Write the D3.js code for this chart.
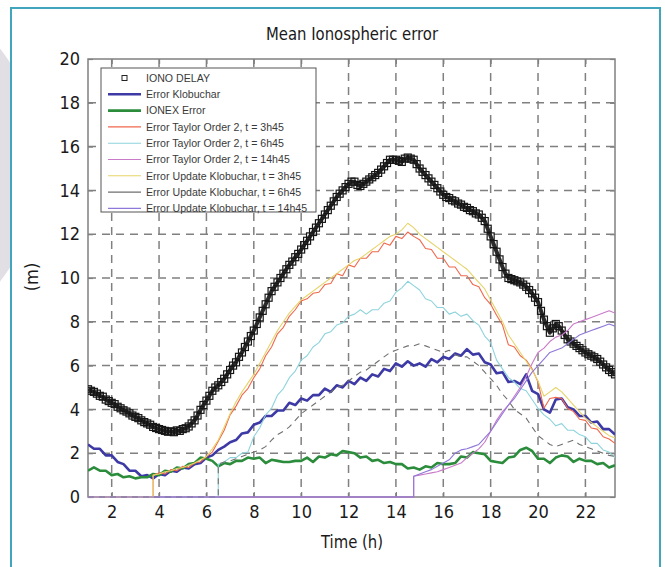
<!DOCTYPE html>
<html>
<head>
<meta charset="utf-8">
<script src="https://cdn.jsdelivr.net/npm/d3@7"></script>
<style>
  html, body { margin: 0; padding: 0; background: #fff; }
  svg { display: block; }
  .num { font-family: "DejaVu Sans Condensed", "Liberation Sans Narrow", sans-serif; fill: #1a1a1a; }
  .leg { font-family: "Liberation Sans", Arial, sans-serif; fill: #3a3a3a; }
</style>
</head>
<body>
<svg id="chart" width="665" height="567"></svg>
<script>
// ---- sampling grids (hours) ----
const hours = d3.range(1, 23.3, 0.25);        // 1.00 .. 23.25
const ionoHours = d3.range(1, 23.3, 0.125);   // 1.000 .. 23.250

// ---- axis ticks ----
const xTicks = [2, 4, 6, 8, 10, 12, 14, 16, 18, 20, 22];
const yTicks = [0, 2, 4, 6, 8, 10, 12, 14, 16, 18, 20];

// ---- series (metres) ----
const ionoDelay = [
  4.92,4.85,4.80,4.72,4.62,4.58,4.45,4.38,
  4.30,4.24,4.12,4.05,3.96,3.90,3.82,3.72,
  3.66,3.60,3.50,3.42,3.36,3.30,3.20,3.15,
  3.10,3.06,3.02,2.98,3.00,2.96,3.04,3.02,
  3.10,3.14,3.22,3.36,3.50,3.72,3.98,4.20,
  4.40,4.62,4.85,5.00,5.10,5.25,5.40,5.60,
  5.80,6.00,6.15,6.40,6.60,6.85,7.10,7.35,
  7.60,7.90,8.20,8.50,8.80,9.10,9.40,9.60,
  9.80,10.00,10.20,10.40,10.60,10.75,10.95,11.10,
  11.30,11.50,11.70,11.90,12.10,12.30,12.50,12.70,
  12.90,13.10,13.30,13.50,13.70,13.85,14.00,14.15,
  14.30,14.40,14.40,14.25,14.20,14.30,14.40,14.50,
  14.60,14.70,14.80,14.95,15.10,15.25,15.40,15.40,
  15.40,15.35,15.30,15.45,15.50,15.45,15.40,15.20,
  15.00,14.85,14.70,14.55,14.40,14.25,14.10,13.95,
  13.80,13.70,13.65,13.55,13.50,13.40,13.35,13.25,
  13.20,13.10,13.05,12.95,12.90,12.75,12.60,12.25,
  11.90,11.55,11.20,10.85,10.50,10.20,10.00,9.95,
  9.90,9.85,9.80,9.70,9.60,9.45,9.30,9.10,
  8.90,8.50,8.10,7.80,7.50,7.70,7.90,7.80,
  7.60,7.40,7.20,7.10,7.00,6.90,6.80,6.70,
  6.60,6.52,6.45,6.38,6.30,6.18,6.05,5.92,
  5.80,5.70,5.60
];

const errKlobuchar = [
  2.40,2.20,2.20,1.90, 1.90,1.60,1.50,1.20, 1.20,0.95,1.00,0.85,
  1.05,1.00,1.20,1.15, 1.35,1.30,1.50,1.55, 1.80,1.90,2.15,2.30,
  2.50,2.60,2.90,2.95, 3.30,3.40,3.70,3.70, 3.95,3.95,4.30,4.20,
  4.50,4.40,4.65,4.65, 4.95,4.80,5.10,5.00, 5.30,5.15,5.45,5.30,
  5.60,5.50,5.85,5.75, 6.10,5.95,6.20,6.00, 6.10,5.95,6.30,6.15,
  6.40,6.30,6.55,6.45, 6.75,6.50,6.55,6.15, 6.05,5.65,5.70,5.25,
  5.30,5.15,5.60,4.85, 4.70,4.00,3.85,4.45, 4.50,4.10,4.00,3.70,
  3.70,3.40,3.45,3.10, 3.10,2.85
];

const ionexError = [
  1.20,1.35,1.20,1.20, 1.00,1.05,0.90,0.95, 0.85,0.90,0.90,1.05,
  1.00,1.20,1.15,1.35, 1.30,1.50,1.55,1.80, 1.75,1.65,1.40,1.55,
  1.50,1.65,1.65,1.80, 1.75,1.80,1.55,1.70, 1.65,1.60,1.60,1.65,
  1.65,1.80,1.60,1.85, 1.80,1.95,1.90,2.10, 2.05,2.00,1.80,1.85,
  1.65,1.70,1.55,1.60, 1.50,1.50,1.30,1.35, 1.25,1.40,1.35,1.55,
  1.50,1.50,1.55,1.85, 1.80,2.05,2.00,1.95, 1.65,1.60,1.55,1.80,
  1.85,2.15,2.25,2.10, 1.75,1.75,1.55,1.80, 1.90,1.85,1.60,1.75,
  1.65,1.65,1.50,1.55, 1.35,1.45
];

const taylor3h45 = [
  0,0,0,0, 0,0,0,0, 0,0,0,1.00,
  1.10,1.05,1.25,1.20, 1.40,1.35,1.55,1.60, 1.85,2.05,2.55,3.05,
  3.75,4.15,4.65,4.95, 5.45,5.85,6.45,6.85, 7.45,7.75,8.25,8.55,
  8.95,9.05,9.30,9.35, 9.70,9.75,10.20,10.10, 10.60,10.50,10.90,10.90,
  11.20,11.20,11.60,11.50, 11.90,11.80,12.10,11.90, 11.75,11.35,11.30,10.90,
  10.90,10.50,10.50,10.10, 10.10,9.70,9.60,9.10, 8.80,8.30,7.85,6.95,
  6.85,6.45,6.25,5.85, 5.25,4.05,4.50,4.55, 4.50,4.05,3.90,3.55,
  3.50,3.15,3.10,2.75, 2.65,2.45
];

const taylor6h45 = [
  0,0,0,0, 0,0,0,0, 0,0,0,0,
  0,0,0,0, 0,0,0,0, 0,0,1.50,1.60,
  1.80,1.80,2.00,2.05, 2.75,3.15,3.75,4.05, 4.65,4.95,5.45,5.75,
  6.25,6.45,6.85,7.05, 7.45,7.55,7.85,7.95, 8.25,8.35,8.55,8.35,
  8.55,8.55,8.85,8.95, 9.35,9.55,9.85,9.65, 9.45,9.05,8.95,8.65,
  8.65,8.35,8.45,8.25, 8.35,8.05,7.85,7.35, 7.05,6.25,5.85,5.45,
  5.25,4.95,4.85,4.45, 4.05,3.75,3.55,3.25, 3.35,3.05,3.05,2.85,
  2.75,2.45,2.45,2.15, 2.05,1.80
];

const taylor14h45 = [
  0,0,0,0, 0,0,0,0, 0,0,0,0,
  0,0,0,0, 0,0,0,0, 0,0,0,0,
  0,0,0,0, 0,0,0,0, 0,0,0,0,
  0,0,0,0, 0,0,0,0, 0,0,0,0,
  0,0,0,0, 0,0,0,0.95, 1.00,1.05,1.10,1.15,
  1.25,1.35,1.45,1.55, 1.80,2.00,2.20,2.50, 3.00,3.50,3.90,4.20,
  4.60,5.00,5.50,6.10, 6.60,6.80,7.10,7.30, 7.40,7.60,7.90,8.00,
  8.10,8.20,8.30,8.40, 8.50,8.40
];

const updKlob3h45 = [
  0,0,0,0, 0,0,0,0, 0,0,0,1.00,
  1.05,1.15,1.20,1.30, 1.35,1.45,1.55,1.70, 1.85,2.20,2.60,3.20,
  3.80,4.35,4.80,5.20, 5.60,6.10,6.60,7.10, 7.60,8.00,8.40,8.70,
  9.00,9.20,9.40,9.60, 9.80,10.00,10.20,10.40, 10.60,10.80,10.90,11.10,
  11.30,11.50,11.70,11.90, 12.00,12.20,12.50,12.30, 12.00,11.80,11.60,11.40,
  11.20,11.00,10.80,10.60, 10.40,10.10,9.80,9.50, 9.00,8.50,8.00,7.40,
  7.00,6.60,6.20,5.80, 5.30,4.60,4.80,5.00, 4.80,4.50,4.20,3.90,
  3.60,3.40,3.20,3.00, 2.80,2.70
];

const updKlob6h45 = [
  0,0,0,0, 0,0,0,0, 0,0,0,0,
  0,0,0,0, 0,0,0,0, 0,0,1.50,1.60,
  1.65,1.75,1.85,1.95, 2.05,2.15,2.30,2.60, 2.85,3.00,3.20,3.50,
  3.80,4.00,4.20,4.40, 4.60,4.80,5.00,5.10, 5.30,5.50,5.70,5.80,
  6.00,6.20,6.40,6.60, 6.70,6.80,6.90,6.90, 7.00,6.90,6.80,6.70,
  6.60,6.70,6.50,6.40, 6.40,6.20,6.00,5.70, 5.40,5.10,4.70,4.40,
  4.00,3.80,3.60,3.20, 2.80,2.60,2.40,2.30, 2.40,2.50,2.60,2.40,
  2.30,2.20,2.10,2.00, 1.90,1.85
];

const updKlob14h45 = [
  0,0,0,0, 0,0,0,0, 0,0,0,0,
  0,0,0,0, 0,0,0,0, 0,0,0,0,
  0,0,0,0, 0,0,0,0, 0,0,0,0,
  0,0,0,0, 0,0,0,0, 0,0,0,0,
  0,0,0,0, 0,0,0,0.95, 1.05,1.15,1.25,1.40,
  1.55,1.70,2.00,2.15, 2.20,2.30,2.40,2.70, 3.00,3.40,3.80,4.20,
  4.50,4.90,5.30,5.70, 6.00,6.30,6.60,6.70, 6.80,7.00,7.20,7.40,
  7.50,7.60,7.70,7.80, 7.90,7.80
];

const legendLabels = [
  "IONO DELAY",
  "Error Klobuchar",
  "IONEX Error",
  "Error Taylor Order 2, t = 3h45",
  "Error Taylor Order 2, t = 6h45",
  "Error Taylor Order 2, t = 14h45",
  "Error Update Klobuchar, t = 3h45",
  "Error Update Klobuchar, t = 6h45",
  "Error Update Klobuchar, t = 14h45"
];

// line series in drawing order, with their look
const lineSeries = [
  { label: legendLabels[1], values: errKlobuchar,  color: "#3d3aa6", width: 2.6 },
  { label: legendLabels[2], values: ionexError,    color: "#2b8c3c", width: 2.6 },
  { label: legendLabels[3], values: taylor3h45,    color: "#f0674c", width: 1.1 },
  { label: legendLabels[4], values: taylor6h45,    color: "#8ed3dc", width: 1.1 },
  { label: legendLabels[5], values: taylor14h45,   color: "#c97ac8", width: 1.1 },
  { label: legendLabels[6], values: updKlob3h45,   color: "#e6d46a", width: 1.1 },
  { label: legendLabels[7], values: updKlob6h45,   color: "#6f6f6f", width: 1.1, dash: "6,5" },
  { label: legendLabels[8], values: updKlob14h45,  color: "#8f78d8", width: 1.1 }
];

// ---- layout ----
const svg = d3.select("#chart");
const plot = { left: 88, right: 615, top: 59, bottom: 497 };

const x = d3.scaleLinear().domain([1, 23.25]).range([plot.left, plot.right]);
const y = d3.scaleLinear().domain([0, 20]).range([plot.bottom, plot.top]);

// page frame and the grey disc peeking in on the left
svg.append("clipPath").attr("id", "leftClip")
  .append("rect").attr("x", 0).attr("y", 0).attr("width", 10).attr("height", 567);
svg.append("ellipse")
  .attr("cx", -150).attr("cy", 165).attr("rx", 190).attr("ry", 190)
  .attr("fill", "#e2dfe4").attr("clip-path", "url(#leftClip)");
svg.append("rect")
  .attr("x", 11).attr("y", 8).attr("width", 649).attr("height", 600)
  .attr("fill", "#fff").attr("stroke", "#41a6bd").attr("stroke-width", 2);

// title
svg.append("text").attr("class", "num")
  .attr("x", 352).attr("y", 40)
  .attr("text-anchor", "middle").attr("font-size", 18)
  .attr("textLength", 172).attr("lengthAdjust", "spacingAndGlyphs")
  .text("Mean Ionospheric error");

// grid
const grid = svg.append("g").attr("stroke", "#808080").attr("stroke-width", 1.5)
  .attr("stroke-dasharray", "8,6");
grid.selectAll("line.v").data(xTicks).join("line").attr("class", "v")
  .attr("x1", d => x(d)).attr("x2", d => x(d))
  .attr("y1", plot.top).attr("y2", plot.bottom);
grid.selectAll("line.h").data(yTicks.filter(d => d > 0 && d < 20)).join("line").attr("class", "h")
  .attr("x1", plot.left).attr("x2", plot.right)
  .attr("y1", d => y(d)).attr("y2", d => y(d));

// axes box
svg.append("rect")
  .attr("x", plot.left).attr("y", plot.top)
  .attr("width", plot.right - plot.left).attr("height", plot.bottom - plot.top)
  .attr("fill", "none").attr("stroke", "#808080").attr("stroke-width", 1.5);

// axes with inward ticks on all four sides
const axisStyle = g => {
  g.select(".domain").remove();
  g.selectAll(".tick line").attr("stroke", "#808080").attr("stroke-width", 1.2);
  g.selectAll(".tick text").attr("class", "num").attr("font-size", 18).attr("fill", "#1a1a1a");
};
svg.append("g").attr("transform", `translate(0,${plot.bottom})`)
  .call(d3.axisBottom(x).tickValues(xTicks).tickSizeInner(-5).tickSizeOuter(0).tickPadding(8))
  .call(axisStyle);
svg.append("g").attr("transform", `translate(0,${plot.top})`)
  .call(d3.axisTop(x).tickValues(xTicks).tickSizeInner(-5).tickSizeOuter(0).tickFormat(""))
  .call(axisStyle);
svg.append("g").attr("transform", `translate(${plot.left},0)`)
  .call(d3.axisLeft(y).tickValues(yTicks).tickSizeInner(-5).tickSizeOuter(0).tickPadding(8))
  .call(axisStyle);
svg.append("g").attr("transform", `translate(${plot.right},0)`)
  .call(d3.axisRight(y).tickValues(yTicks).tickSizeInner(-5).tickSizeOuter(0).tickFormat(""))
  .call(axisStyle);

// axis titles
svg.append("text").attr("class", "num")
  .attr("x", 352).attr("y", 548)
  .attr("text-anchor", "middle").attr("font-size", 18)
  .attr("textLength", 62).attr("lengthAdjust", "spacingAndGlyphs")
  .text("Time (h)");
svg.append("text").attr("class", "num")
  .attr("transform", "translate(38,277) rotate(-90)")
  .attr("text-anchor", "middle").attr("font-size", 18).text("(m)");

// data layer, clipped to the axes box
svg.append("clipPath").attr("id", "plotClip")
  .append("rect").attr("x", plot.left).attr("y", plot.top - 2)
  .attr("width", plot.right - plot.left).attr("height", plot.bottom - plot.top + 4);
const layer = svg.append("g").attr("clip-path", "url(#plotClip)");

// IONO DELAY: dense open square markers over a dark trace
const iono = ionoDelay.map((v, i) => [ionoHours[i], v]);
const line = d3.line().x(d => x(d[0])).y(d => y(d[1]));
layer.append("path")
  .attr("d", line(iono))
  .attr("fill", "none").attr("stroke", "#2a2a2a").attr("stroke-width", 4)
  .attr("stroke-linejoin", "round");
const sq = 7;
layer.append("g").selectAll("rect").data(iono).join("rect")
  .attr("x", d => x(d[0]) - sq / 2)
  .attr("y", d => y(d[1]) - sq / 2)
  .attr("width", sq).attr("height", sq)
  .attr("fill", "none").attr("stroke", "#161616").attr("stroke-width", 1.2);

// Lines: a series that switches on from zero rises vertically at its start time
function toPoints(values) {
  const pts = [];
  values.forEach((v, i) => {
    if (i > 0 && values[i - 1] === 0 && v > 0) pts.push([hours[i], 0]);
    pts.push([hours[i], v]);
  });
  return pts;
}
lineSeries.forEach(s => {
  layer.append("path")
    .attr("d", line(toPoints(s.values)))
    .attr("fill", "none")
    .attr("stroke", s.color)
    .attr("stroke-width", s.width)
    .attr("stroke-linejoin", "round")
    .attr("stroke-dasharray", s.dash || null);
});

// legend
const leg = svg.append("g");
leg.append("rect")
  .attr("x", 101).attr("y", 68).attr("width", 215).attr("height", 144)
  .attr("fill", "#fff").attr("stroke", "#555").attr("stroke-width", 1);
const rowY = i => 78 + i * 16.3;
leg.append("rect")
  .attr("x", 124.5 - 2.5).attr("y", rowY(0) - 2.5).attr("width", 5).attr("height", 5)
  .attr("fill", "none").attr("stroke", "#222").attr("stroke-width", 1);
lineSeries.forEach((s, i) => {
  leg.append("line")
    .attr("x1", 108).attr("x2", 141)
    .attr("y1", rowY(i + 1)).attr("y2", rowY(i + 1))
    .attr("stroke", s.color).attr("stroke-width", s.width);
});
leg.selectAll("text").data(legendLabels).join("text")
  .attr("class", "leg")
  .attr("x", 146).attr("y", (d, i) => rowY(i) + 3.7)
  .attr("font-size", 10.6)
  .text(d => d);
</script>
</body>
</html>
